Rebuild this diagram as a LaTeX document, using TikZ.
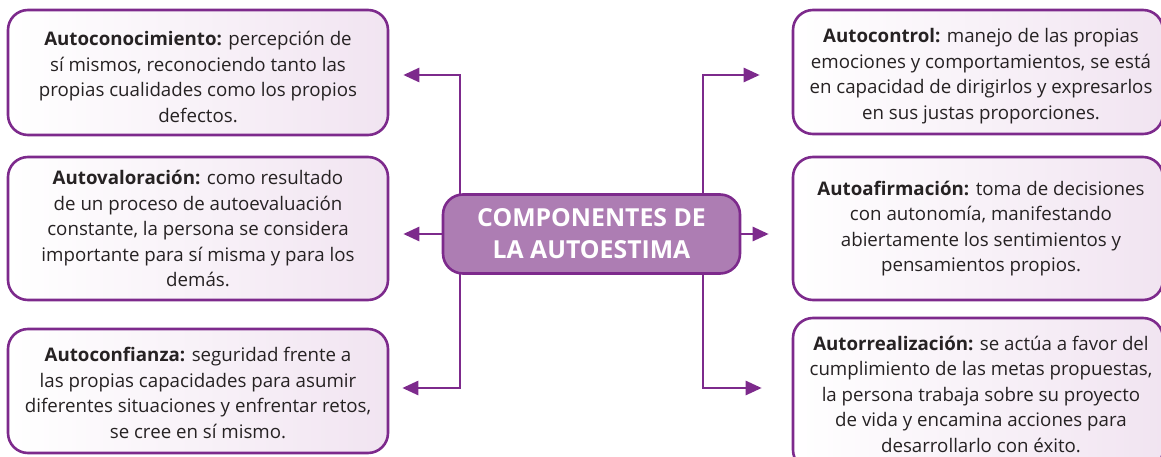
\documentclass[tikz,border=0pt]{standalone}
\usepackage{fontspec}
\setmainfont{Open Sans}
\usetikzlibrary{arrows.meta,calc}
\definecolor{purp}{HTML}{7D2A8C}
\definecolor{cfill}{HTML}{AD7DB3}
\definecolor{bfill}{HTML}{F1E4F1}
\definecolor{txt}{HTML}{262223}
\tikzset{
  infobox/.style={draw=purp, line width=2.6pt, rounded corners=20pt, left color=white, right color=bfill, inner sep=0pt},
  boxtext/.style={align=center, text=txt, font=\fontsize{18.7}{25.5}\selectfont, inner sep=0pt},
  centerbox/.style={draw=purp, line width=2.6pt, rounded corners=20pt, fill=cfill,
    align=center, text=white, font=\bfseries\fontsize{24.8}{32}\selectfont, inner sep=0pt,
    minimum width=297pt, minimum height=79pt},
  arr/.style={draw=purp, line width=2.6pt, -{Triangle[length=16pt,width=14pt]}}
}
\begin{document}
\begin{tikzpicture}[x=1pt,y=-1pt]
\useasboundingbox (0,0) rectangle (1161,457);
% left boxes
\node[infobox, minimum width=380pt, minimum height=125pt] (l1) at (198,72.5) {};
\node[boxtext] (l1t) at (198,77)
 {\textbf{Autoconocimiento:} percepción de\\sí mismos, reconociendo tanto las\\propias cualidades como los propios\\defectos.};
\node[infobox, minimum width=380pt, minimum height=143pt] (l2) at (198,228.5) {};
\node[boxtext] (l2t) at (198,228.5)
 {\textbf{Autovaloración:} como resultado\\de un proceso de autoevaluación\\constante, la persona se considera\\importante para sí misma y para los\\demás.};
\node[infobox, minimum width=380pt, minimum height=124pt] (l3) at (198,391) {};
\node[boxtext] (l3t) at (198,393)
 {\textbf{Autoconfianza:} seguridad frente a\\las propias capacidades para asumir\\diferentes situaciones y enfrentar retos,\\se cree en sí mismo.};
% right boxes
\node[infobox, minimum width=370pt, minimum height=124pt] (r1) at (978,72) {};
\node[boxtext] (r1t) at (981,76)
 {\textbf{Autocontrol:} manejo de las propias\\emociones y comportamientos, se está\\en capacidad de dirigirlos y expresarlos\\en sus justas proporciones.};
\node[infobox, minimum width=370pt, minimum height=143pt] (r2) at (978,228.5) {};
\node[boxtext] (r2t) at (981,228.5)
 {\textbf{Autoafirmación:} toma de decisiones\\con autonomía, manifestando\\abiertamente los sentimientos y\\pensamientos propios.};
\node[infobox, minimum width=370pt, minimum height=152pt] (r3) at (978,394) {};
\node[boxtext] (r3t) at (981,394)
 {\textbf{Autorrealización:} se actúa a favor del\\cumplimiento de las metas propuestas,\\la persona trabaja sobre su proyecto\\de vida y encamina acciones para\\desarrollarlo con éxito.};
% trunks
\coordinate (lt) at (460,75);
\coordinate (lb) at (460,388);
\coordinate (rt) at (703,75);
\coordinate (rb) at (703,388);
\draw[arr] (lb) -- (lt) -- ([xshift=14pt]l1.east |- lt);
\draw[arr] (lt) -- (lb) -- ([xshift=13pt]l3.east |- lb);
\draw[arr] (rb) -- (rt) -- ([xshift=-32pt]r1.west |- rt);
\draw[arr] (rt) -- (rb) -- ([xshift=-30pt]r3.west |- rb);
% center
\node[centerbox] (c) at (591.5,234) {COMPONENTES DE\\LA AUTOESTIMA};
\draw[arr] (c.west) -- ([xshift=14pt]l2.east |- c.west);
\draw[arr] (c.east) -- ([xshift=-23pt]r2.west |- c.east);
\end{tikzpicture}
\end{document}
